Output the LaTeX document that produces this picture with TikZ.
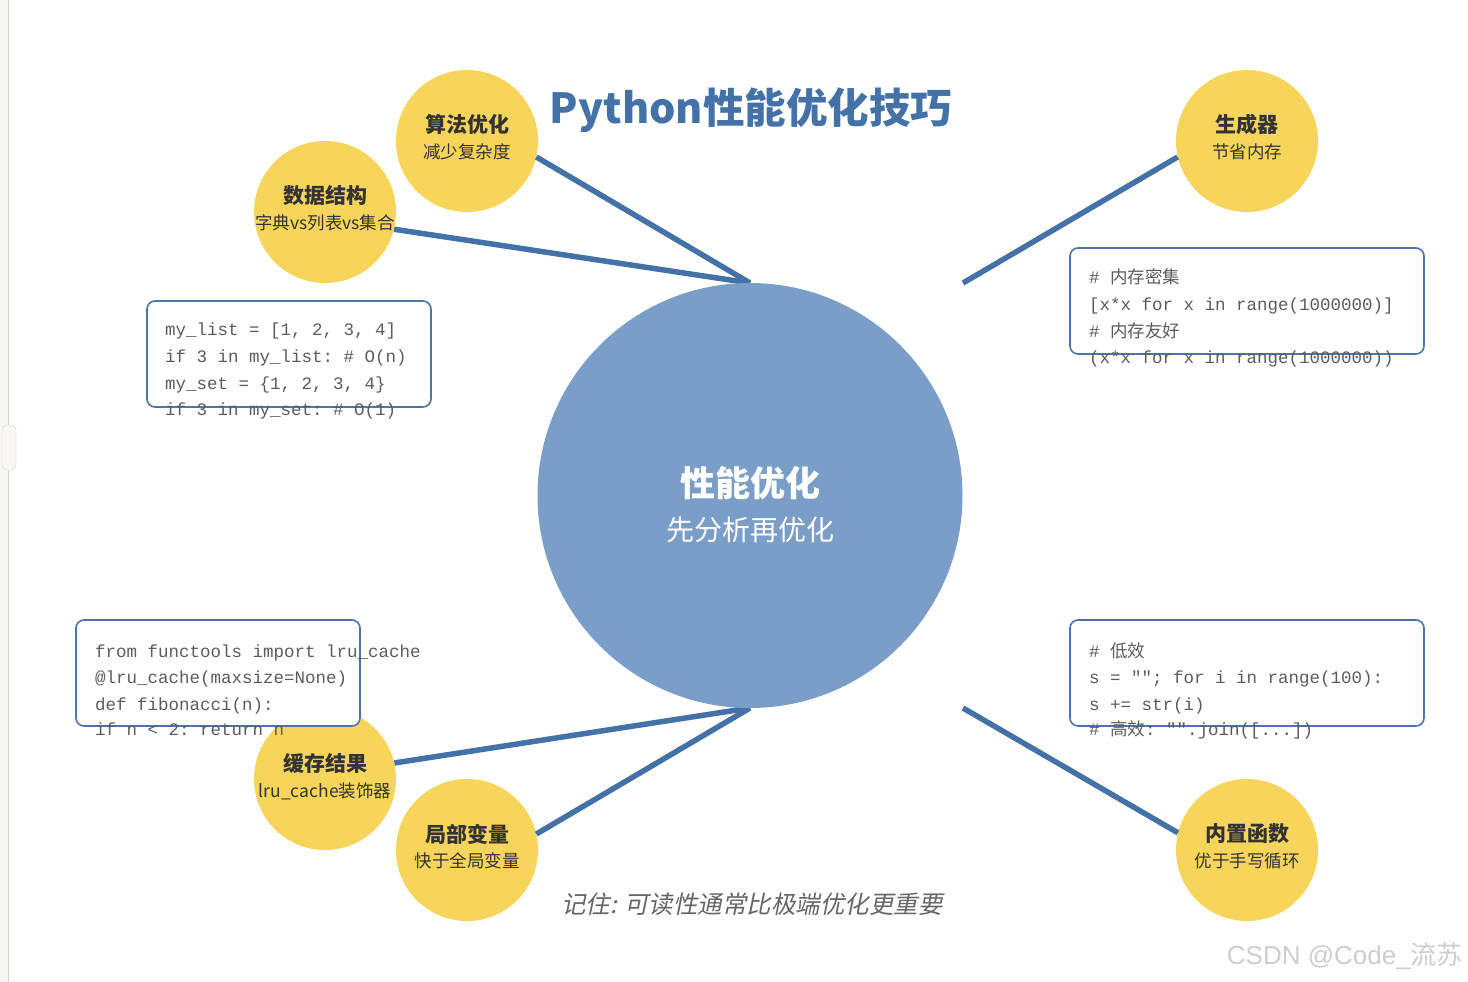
\documentclass[tikz,border=0pt]{standalone}
\usepackage{fontspec}
\setmonofont{Liberation Mono}
\newfontfamily\cjk{Noto Sans CJK SC}
\newfontfamily\cjkit[FakeSlant=0.2]{Noto Sans CJK SC}
\newfontfamily\wmfont{Liberation Sans}
\definecolor{linkblue}{RGB}{68,114,168}
\definecolor{hubfill}{RGB}{122,158,199}
\definecolor{ylw}{RGB}{247,213,91}
\definecolor{boxblue}{RGB}{74,118,173}
\definecolor{codegray}{RGB}{92,92,92}
\definecolor{labeldark}{RGB}{51,51,51}
\definecolor{notegray}{RGB}{102,102,102}
\definecolor{wmgray}{RGB}{206,206,206}
\definecolor{stripfill}{RGB}{248,247,244}
\definecolor{stripline}{RGB}{212,212,212}
\tikzset{
  link/.style={draw=linkblue, line width=5.5pt},
  hubcirc/.style={circle, fill=hubfill, minimum size=425pt, inner sep=0pt},
  ycirc/.style={circle, fill=ylw, minimum size=142pt, inner sep=0pt},
  ytitle/.style={inner sep=0pt, text=labeldark, font=\cjk\bfseries\fontsize{21}{21}\selectfont},
  ysub/.style={inner sep=0pt, text=labeldark, font=\cjk\fontsize{17.5}{17.5}\selectfont},
  codebox/.style={draw=boxblue, line width=1.6pt, fill=white, rounded corners=8pt, inner sep=0pt, minimum height=106pt},
  code/.style={anchor=base west, inner sep=0pt, text=codegray, font=\ttfamily\fontsize{17.5}{17.5}\selectfont},
}
\begin{document}
\begin{tikzpicture}[x=1pt, y=-1pt]
\useasboundingbox[fill=white] (0,0) rectangle (1468,982);
% left strip of the page
\fill[stripfill] (0,0) rectangle (8,982);
\draw[stripline, line width=1pt] (8,0) -- (8,982);
\node[draw=stripline, fill=stripfill, rounded corners=5pt, minimum width=14pt, minimum height=45pt, inner sep=0pt] (handle) at (9,447.5) {};

% hub anchor coordinates
\coordinate (hubN) at (750,283);
\coordinate (hubNE) at (963,283);
\coordinate (hubS) at (750,708);
\coordinate (hubSE) at (963,708);

% title
\node[inner sep=0pt, text=linkblue, font=\cjk\bfseries\fontsize{41.5}{41.5}\selectfont] (ttl) at (751,110) {Python性能优化技巧};

% satellite circles
\node[ycirc] (alg) at (467,141) {};
\node[ycirc] (ds) at (325,212) {};
\node[ycirc] (gen) at (1247,141) {};
\node[ycirc] (cache) at (325,779) {};
\node[ycirc] (local) at (467,850) {};
\node[ycirc] (builtin) at (1247,850) {};

% connectors
\draw[link] (alg.-13.5) -- (hubN);
\draw[link] (ds.-14) -- (hubN);
\draw[link] (gen.193.5) -- (hubNE);
\draw[link] (cache.13.5) -- (hubS);
\draw[link] (local.13.5) -- (hubS);
\draw[link] (builtin.166.5) -- (hubSE);

% central circle
\node[hubcirc] (perf) at (750,495.5) {};
\node[inner sep=0pt, text=white, font=\cjk\bfseries\fontsize{35}{35}\selectfont] (perfT) at (750,483) {性能优化};
\node[inner sep=0pt, text=white, font=\cjk\fontsize{28}{28}\selectfont] (perfS) at (750,530) {先分析再优化};

% satellite labels
\node[ytitle] (algT) at (467,124) {算法优化};
\node[ysub] (algS) at (467,152) {减少复杂度};
\node[ytitle] (dsT) at (325,196) {数据结构};
\node[ysub] (dsS) at (325,223) {字典vs列表vs集合};
\node[ytitle] (genT) at (1247,124) {生成器};
\node[ysub] (genS) at (1247,152) {节省内存};
\node[ytitle] (cacheT) at (325,763) {缓存结果};
\node[ysub] (cacheS) at (325,791) {lru\_cache装饰器};
\node[ytitle] (localT) at (467,834) {局部变量};
\node[ysub] (localS) at (467,861) {快于全局变量};
\node[ytitle] (builtinT) at (1247,834) {内置函数};
\node[ysub] (builtinS) at (1247,861) {优于手写循环};

% code boxes
\node[codebox, minimum width=284pt] (box1) at (289,354) {};
\node[codebox, minimum width=354pt] (box2) at (1247,301) {};
\node[codebox, minimum width=284pt] (box3) at (218,673) {};
\node[codebox, minimum width=354pt] (box4) at (1247,673) {};

% code lines
\node[code] (b1l1) at (165,335) {my\_list = [1, 2, 3, 4]};
\node[code] (b1l2) at (165,362) {if 3 in my\_list: \# O(n)};
\node[code] (b1l3) at (165,389) {my\_set = \{1, 2, 3, 4\}};
\node[code] (b1l4) at (165,415) {if 3 in my\_set: \# O(1)};

\node[code] (b2l1) at (1089,283) {\# {\cjk 内存密集}};
\node[code] (b2l2) at (1089,310) {[x*x for x in range(1000000)]};
\node[code] (b2l3) at (1089,337) {\# {\cjk 内存友好}};
\node[code] (b2l4) at (1089,363) {(x*x for x in range(1000000))};

\node[code] (b3l1) at (95,657) {from functools import lru\_cache};
\node[code] (b3l2) at (95,683) {@lru\_cache(maxsize=None)};
\node[code] (b3l3) at (95,710) {def fibonacci(n):};
\node[code] (b3l4) at (95,735) {if n < 2: return n};

\node[code] (b4l1) at (1089,657) {\# {\cjk 低效}};
\node[code] (b4l2) at (1089,683) {s = ""; for i in range(100):};
\node[code] (b4l3) at (1089,710) {s += str(i)};
\node[code] (b4l4) at (1089,735) {\# {\cjk 高效}: "".join([...])};

% note
\node[inner sep=0pt, text=notegray, font=\cjkit\fontsize{24.5}{24.5}\selectfont] (note) at (752,904) {记住: 可读性通常比极端优化更重要};

% watermark
\node[anchor=east, inner sep=0pt, text=wmgray, font=\wmfont\fontsize{26}{26}\selectfont] (wm) at (1463,956) {CSDN @Code\_{\cjk 流苏}};
\end{tikzpicture}
\end{document}
